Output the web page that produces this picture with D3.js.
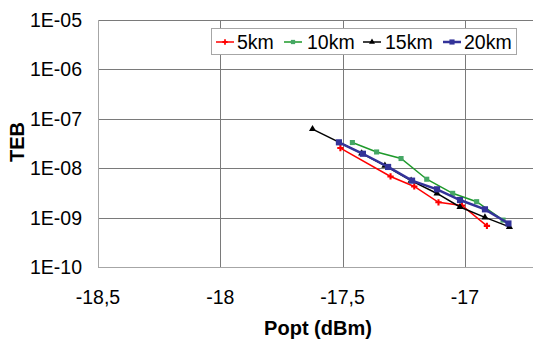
<!DOCTYPE html>
<html><head><meta charset="utf-8">
<script src="https://cdn.jsdelivr.net/npm/d3@7"></script>
<style>body{margin:0;background:#fff}svg{display:block}text{font-family:"Liberation Sans",Arial,sans-serif}</style>
</head><body><svg id="c" width="535" height="340"></svg>
<script>
const seriesNames = ["5km","10km","15km","20km"];
const x5  = [-17.509,-17.304,-17.207,-17.108,-17.012,-16.910];
const y5  = [2.56e-8,6.8e-9,4.27e-9,2.04e-9,1.76e-9,6.8e-10];
const x10 = [-17.460,-17.361,-17.261,-17.156,-17.050,-16.952,-16.844];
const y10 = [3.31e-8,2.13e-8,1.57e-8,5.98e-9,3.1e-9,2.1e-9,8.9e-10];
const x15 = [-17.623,-17.422,-17.327,-17.220,-17.114,-17.020,-16.918,-16.818];
const y15 = [6.2e-8,2.0e-8,1.13e-8,5.6e-9,3.08e-9,1.64e-9,1.01e-9,6.5e-10];
const x20 = [-17.515,-17.417,-17.314,-17.216,-17.114,-17.020,-16.918,-16.822];
const y20 = [3.34e-8,1.96e-8,1.06e-8,5.6e-9,3.74e-9,2.27e-9,1.47e-9,7.6e-10];
const xTicks = [-18.5,-18,-17.5,-17];
const xTickLabels = ["-18,5","-18","-17,5","-17"];
const yTicks = [1e-5,1e-6,1e-7,1e-8,1e-9,1e-10];
const yTickLabels = ["1E-05","1E-06","1E-07","1E-08","1E-09","1E-10"];
const xTitle = "Popt (dBm)", yTitle = "TEB";

const styles = [
  {line:"#ff0000", fill:"#ff0000", sym:d3.symbolCross, size:22, w:1.5},
  {line:"#1e9a2a", fill:"#45a765", sym:d3.symbolSquare, size:26, w:1.5},
  {line:"#000000", fill:"#000000", sym:d3.symbolTriangle, size:22, w:1.5},
  {line:"#333399", fill:"#333399", sym:d3.symbolSquare, size:38, w:2.5}
];
const data = [[x5,y5],[x10,y10],[x15,y15],[x20,y20]].map(([xs,ys])=>xs.map((v,i)=>({x:v,y:ys[i]})));

const L=98,R=533,T=20,B=267;
const xs = d3.scaleLinear().domain([-18.5, -18.5+(R-L)/244.6]).range([L,R]);
const ys = d3.scaleLog().domain([1e-10,1e-5]).range([B,T]);
const svg = d3.select("#c");

// gridlines
svg.append("g").selectAll("line").data(yTicks.slice(0,5)).join("line")
  .attr("x1",L).attr("x2",R).attr("y1",d=>Math.round(ys(d))+0.5).attr("y2",d=>Math.round(ys(d))+0.5)
  .attr("stroke","#7a7a7a").attr("stroke-width",1);
svg.append("g").selectAll("line").data(xTicks.slice(1)).join("line")
  .attr("y1",T).attr("y2",B).attr("x1",d=>Math.round(xs(d))+0.5).attr("x2",d=>Math.round(xs(d))+0.5)
  .attr("stroke","#7a7a7a").attr("stroke-width",1);
// axes
svg.append("line").attr("x1",L+0.5).attr("x2",L+0.5).attr("y1",T).attr("y2",B+0.5).attr("stroke","#a6a6a6");
svg.append("line").attr("x1",L).attr("x2",R).attr("y1",B+0.5).attr("y2",B+0.5).attr("stroke","#a6a6a6");

// tick labels
svg.append("g").selectAll("text").data(yTicks).join("text")
  .attr("x",82).attr("y",d=>ys(d)+7).attr("text-anchor","end")
  .attr("font-size","19.5px").attr("fill","#000").text((d,i)=>yTickLabels[i]);
svg.append("g").selectAll("text").data(xTicks).join("text")
  .attr("x",d=>xs(d)).attr("y",303.5).attr("text-anchor","middle")
  .attr("font-size","19.5px").attr("fill","#000").text((d,i)=>xTickLabels[i]);

// titles
svg.append("text").attr("x",318).attr("y",335).attr("text-anchor","middle")
  .attr("font-size","20px").attr("font-weight","bold").text(xTitle);
svg.append("text").attr("transform","translate(24,142) rotate(-90)").attr("text-anchor","middle")
  .attr("font-size","20px").attr("font-weight","bold").text(yTitle);

// series
const line = d3.line().x(d=>xs(d.x)).y(d=>ys(d.y));
const order=[0,1,3,2];
data.forEach((s,i)=>{
  const st=styles[i];
  const g=svg.append("g");
  g.append("path").attr("d",line(s)).attr("fill","none").attr("stroke",st.line).attr("stroke-width",st.w);
  g.selectAll("path.m").data(s).join("path").attr("class","m")
    .attr("transform",d=>`translate(${xs(d.x)},${ys(d.y)})`)
    .attr("d",d3.symbol().type(st.sym).size(st.size)).attr("fill",st.fill);
});

// legend
const lg = svg.append("g");
lg.append("rect").attr("x",211.5).attr("y",28.5).attr("width",305).attr("height",26)
  .attr("fill","#fff").attr("stroke","#a6a6a6");
const lx=[216,284,363,443], tx=[237,307,385,464];
seriesNames.forEach((n,i)=>{
  const st=styles[i];
  lg.append("line").attr("x1",lx[i]).attr("x2",lx[i]+18).attr("y1",42).attr("y2",42)
    .attr("stroke",st.line).attr("stroke-width",st.w);
  lg.append("path").attr("transform",`translate(${lx[i]+9},42)`)
    .attr("d",d3.symbol().type(st.sym).size(st.size*0.7)).attr("fill",st.fill);
  lg.append("text").attr("x",tx[i]).attr("y",49).attr("font-size","19.5px").text(n);
});
</script></body></html>
